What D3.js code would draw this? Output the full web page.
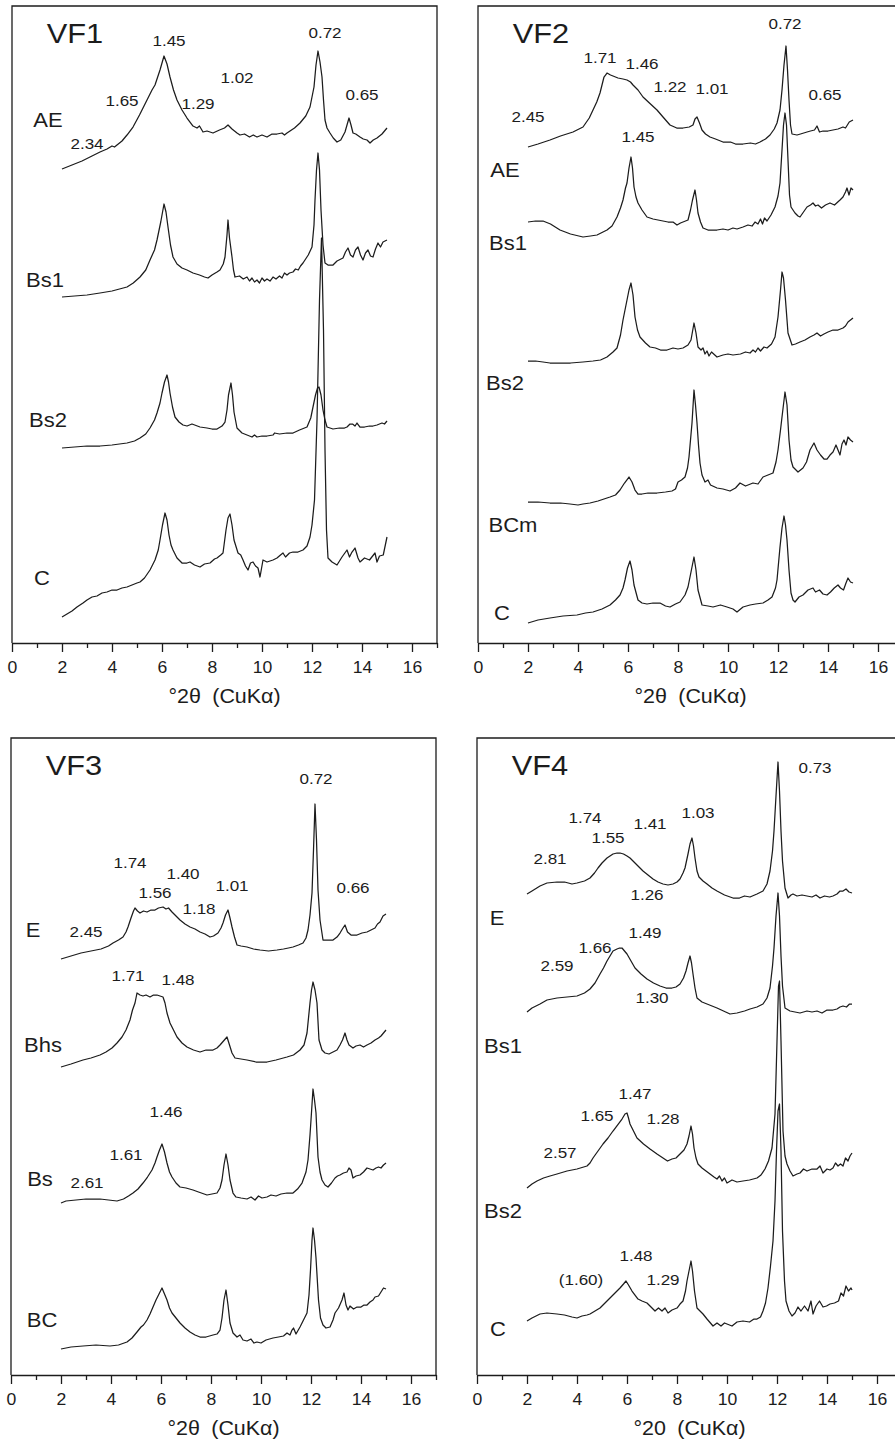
<!DOCTYPE html>
<html>
<head>
<meta charset="utf-8">
<script src="https://cdnjs.cloudflare.com/ajax/libs/d3/7.8.5/d3.min.js"></script>
<style>
  html, body { margin: 0; padding: 0; background: #fff; }
  svg { display: block; }
</style>
</head>
<body>
<svg id="chart" width="895" height="1445"></svg>
<script>
// X-ray diffraction patterns of the clay fraction, four profiles (VF1–VF4).
// Each series: [°2θ, stacked intensity (arbitrary units)].

const xTicksMajor = [0, 2, 4, 6, 8, 10, 12, 14, 16];
const xTicksMinor = [1, 3, 5, 7, 9, 11, 13, 15, 17];
const xTickLabels = ["0", "2", "4", "6", "8", "10", "12", "14", "16"];

// ---------- VF1 ----------
const vf1AE = [[2.0,474],[2.4,478],[2.8,482],[3.2,487],[3.52,491],[3.8,494],[4.0,497],[4.1,496],[4.2,498],[4.4,502],[4.6,508],[4.84,516],[5.1,528],[5.4,543],[5.6,553],[5.72,558],[5.92,573],[6.08,587],[6.2,579],[6.32,566],[6.46,553],[6.6,543],[6.8,533],[7.0,525],[7.24,517],[7.4,515],[7.5,517],[7.64,511],[7.8,512],[8.04,510],[8.3,513],[8.5,515],[8.64,518],[8.8,514],[9.0,510],[9.12,508],[9.3,509],[9.5,506],[9.65,508],[9.8,506],[10.0,508],[10.2,506],[10.4,509],[10.6,509],[10.8,510],[10.9,508],[11.0,510],[11.12,512],[11.3,515],[11.52,520],[11.75,527],[11.92,536],[12.08,556],[12.16,578],[12.24,592],[12.32,581],[12.4,566],[12.46,543],[12.52,523],[12.6,515],[12.72,510],[12.85,505],[13.0,501],[13.15,503],[13.32,511],[13.48,525],[13.56,518],[13.64,510],[13.75,509],[13.92,506],[14.05,504],[14.2,503],[14.32,500],[14.45,503],[14.6,505],[14.8,509],[15.0,515]];
const vf1Bs1 = [[2.0,346],[2.5,347],[3.0,348],[3.52,350],[4.0,352],[4.3,354],[4.6,356],[4.85,360],[5.12,366],[5.35,373],[5.52,383],[5.7,393],[5.8,403],[5.95,421],[6.08,439],[6.16,431],[6.24,416],[6.34,398],[6.44,386],[6.6,379],[6.8,375],[7.0,373],[7.24,370],[7.5,368],[7.7,366],[7.84,365],[8.0,368],[8.2,371],[8.32,373],[8.45,379],[8.52,386],[8.6,408],[8.64,423],[8.7,405],[8.8,386],[8.86,373],[8.92,366],[9.1,367],[9.25,364],[9.4,366],[9.5,362],[9.6,365],[9.7,361],[9.8,363],[9.9,360],[10.0,365],[10.1,362],[10.2,364],[10.32,362],[10.44,366],[10.56,364],[10.7,367],[10.8,365],[10.9,370],[11.0,368],[11.1,370],[11.24,371],[11.34,374],[11.45,373],[11.54,377],[11.64,380],[11.85,388],[12.0,396],[12.08,418],[12.12,443],[12.18,473],[12.24,490],[12.3,473],[12.36,433],[12.44,398],[12.52,380],[12.64,378],[12.84,378],[13.0,382],[13.24,385],[13.34,391],[13.44,395],[13.54,388],[13.64,386],[13.74,393],[13.84,396],[13.94,388],[14.04,383],[14.14,390],[14.24,393],[14.34,387],[14.44,386],[14.54,394],[14.64,400],[14.74,396],[14.84,401],[14.92,402],[15.0,403]];
const vf1Bs2 = [[2.0,195],[2.5,196],[3.0,197],[3.52,197],[4.0,198],[4.6,200],[4.9,202],[5.12,205],[5.35,209],[5.52,215],[5.7,223],[5.8,230],[5.92,240],[6.0,250],[6.1,261],[6.2,268],[6.26,261],[6.32,250],[6.42,236],[6.52,226],[6.68,221],[6.84,218],[7.0,217],[7.2,219],[7.52,216],[7.8,215],[8.0,214],[8.2,214],[8.4,217],[8.52,221],[8.6,233],[8.66,248],[8.76,260],[8.82,248],[8.88,231],[9.0,215],[9.2,210],[9.4,208],[9.6,206],[9.7,208],[9.8,206],[10.0,207],[10.2,207],[10.44,208],[10.5,210],[10.7,209],[11.0,210],[11.24,210],[11.5,213],[11.8,216],[11.95,225],[12.04,236],[12.14,248],[12.22,255],[12.28,256],[12.36,248],[12.44,233],[12.52,223],[12.6,216],[12.84,214],[13.1,215],[13.3,215],[13.4,216],[13.52,219],[13.62,219],[13.72,217],[13.8,220],[13.92,216],[14.1,216],[14.3,217],[14.44,217],[14.6,218],[14.8,220],[14.9,219],[15.0,222]];
const vf1C = [[2.0,26],[2.2,29],[2.4,32],[2.6,36],[2.84,40],[3.0,43],[3.2,46],[3.4,47],[3.6,50],[3.8,51],[4.0,53],[4.2,53],[4.4,55],[4.6,56],[4.8,58],[5.0,60],[5.12,61],[5.3,65],[5.52,73],[5.72,83],[5.85,93],[5.92,103],[6.02,118],[6.12,130],[6.2,123],[6.28,108],[6.36,98],[6.44,93],[6.6,85],[6.8,80],[7.0,80],[7.12,81],[7.3,78],[7.52,76],[7.7,79],[7.92,80],[8.1,84],[8.2,85],[8.35,88],[8.44,90],[8.56,113],[8.64,125],[8.72,129],[8.8,118],[8.88,103],[9.04,90],[9.15,88],[9.24,83],[9.34,77],[9.44,73],[9.54,80],[9.64,81],[9.74,77],[9.84,75],[9.92,66],[10.04,83],[10.2,81],[10.44,83],[10.6,85],[10.74,88],[10.84,90],[10.94,86],[11.1,90],[11.24,91],[11.44,91],[11.64,93],[11.8,97],[11.92,106],[12.0,118],[12.1,143],[12.2,223],[12.3,343],[12.38,405],[12.46,313],[12.52,193],[12.58,113],[12.64,85],[12.8,81],[13.0,78],[13.2,86],[13.4,93],[13.5,86],[13.6,91],[13.72,95],[13.84,85],[13.92,81],[14.1,85],[14.3,83],[14.52,90],[14.6,81],[14.7,87],[14.85,88],[15.0,106]];

// ---------- VF2 ----------
const vf2AE = [[2.0,496],[2.4,499],[2.88,503],[3.3,507],[3.8,511],[4.2,516],[4.45,525],[4.6,533],[4.75,541],[4.88,550],[4.96,558],[5.04,566],[5.16,570],[5.3,568],[5.4,567],[5.6,565],[5.8,564],[5.96,563],[6.1,561],[6.2,558],[6.4,553],[6.6,546],[6.9,539],[7.16,533],[7.4,526],[7.68,518],[7.95,515],[8.2,515],[8.45,516],[8.6,518],[8.68,524],[8.76,526],[8.86,520],[8.96,513],[9.1,509],[9.28,506],[9.5,504],[9.8,501],[10.1,501],[10.3,499],[10.6,499],[10.9,500],[11.1,499],[11.28,501],[11.5,504],[11.68,508],[11.85,514],[11.96,520],[12.08,533],[12.16,553],[12.24,578],[12.32,597],[12.38,573],[12.44,543],[12.5,518],[12.56,509],[12.76,508],[12.9,509],[13.16,511],[13.3,512],[13.46,513],[13.56,517],[13.66,511],[13.8,512],[14.0,512],[14.2,513],[14.4,514],[14.6,516],[14.7,515],[14.85,521],[15.0,523]];
const vf2Bs1 = [[2.0,421],[2.3,422],[2.6,422],[2.9,419],[3.28,413],[3.7,409],[4.2,406],[4.5,407],[4.76,408],[5.0,411],[5.16,413],[5.36,417],[5.56,426],[5.7,435],[5.8,443],[5.9,455],[5.96,460],[6.04,475],[6.12,486],[6.18,475],[6.24,456],[6.32,446],[6.4,440],[6.56,433],[6.76,426],[7.0,424],[7.2,423],[7.4,422],[7.6,421],[7.8,421],[7.96,418],[8.1,420],[8.3,422],[8.4,423],[8.5,433],[8.58,443],[8.68,453],[8.74,443],[8.8,430],[8.9,421],[9.0,415],[9.2,413],[9.56,413],[9.8,414],[10.0,413],[10.2,415],[10.36,414],[10.6,416],[10.8,418],[10.96,417],[11.08,421],[11.2,419],[11.3,424],[11.38,419],[11.46,425],[11.56,422],[11.72,428],[11.88,436],[12.0,447],[12.08,460],[12.16,493],[12.22,518],[12.28,530],[12.34,518],[12.4,483],[12.46,448],[12.52,436],[12.68,430],[12.8,427],[12.88,426],[13.02,431],[13.16,436],[13.3,438],[13.4,440],[13.5,437],[13.6,438],[13.74,435],[13.9,438],[14.08,440],[14.26,438],[14.48,443],[14.6,446],[14.7,451],[14.76,455],[14.84,448],[14.92,455],[15.0,453]];
const vf2Bs2 = [[2.0,282],[2.3,282],[2.6,281],[2.88,280],[3.3,280],[3.7,280],[4.2,281],[4.6,282],[4.9,283],[5.16,286],[5.4,291],[5.56,295],[5.7,308],[5.8,323],[5.92,338],[6.04,353],[6.12,360],[6.2,348],[6.28,326],[6.38,313],[6.48,306],[6.7,300],[6.88,296],[7.1,295],[7.3,293],[7.56,293],[7.8,295],[8.0,294],[8.2,295],[8.4,298],[8.52,303],[8.64,320],[8.72,310],[8.8,296],[8.92,293],[9.0,295],[9.08,289],[9.16,292],[9.24,287],[9.34,291],[9.56,286],[9.8,288],[10.0,289],[10.2,288],[10.5,289],[10.7,291],[10.88,290],[11.0,293],[11.1,291],[11.2,295],[11.3,292],[11.44,296],[11.56,295],[11.74,299],[11.88,306],[12.0,326],[12.1,353],[12.16,371],[12.22,365],[12.3,343],[12.4,310],[12.56,298],[12.7,299],[12.88,301],[13.08,303],[13.28,306],[13.44,308],[13.56,310],[13.7,307],[13.84,309],[14.0,311],[14.2,313],[14.4,313],[14.6,315],[14.7,317],[14.8,321],[14.9,323],[15.0,325]];
const vf2BCm = [[2.0,141],[2.4,141],[2.88,140],[3.3,140],[3.68,139],[4.0,138],[4.2,139],[4.48,140],[4.8,142],[5.04,144],[5.28,146],[5.5,148],[5.68,153],[5.86,160],[6.04,166],[6.16,161],[6.28,153],[6.4,149],[6.56,149],[6.8,150],[7.16,150],[7.5,151],[7.76,152],[7.9,154],[8.0,161],[8.14,163],[8.28,166],[8.38,175],[8.44,186],[8.5,203],[8.56,220],[8.64,253],[8.7,238],[8.76,220],[8.82,198],[8.88,180],[8.96,168],[9.08,161],[9.2,163],[9.3,158],[9.56,155],[9.8,154],[10.08,152],[10.3,155],[10.48,160],[10.7,157],[11.0,160],[11.2,159],[11.4,166],[11.6,168],[11.8,170],[11.92,181],[12.0,193],[12.1,213],[12.16,226],[12.28,251],[12.36,238],[12.44,203],[12.52,183],[12.6,176],[12.8,171],[13.0,175],[13.14,181],[13.28,193],[13.44,200],[13.56,193],[13.7,188],[13.84,184],[13.96,184],[14.08,188],[14.2,191],[14.32,198],[14.4,193],[14.48,188],[14.56,199],[14.64,203],[14.72,198],[14.8,206],[14.9,203],[15.0,201]];
const vf2C = [[2.0,20],[2.4,23],[2.88,25],[3.4,27],[3.96,28],[4.3,30],[4.6,31],[4.96,34],[5.28,38],[5.5,43],[5.68,48],[5.8,55],[5.88,63],[5.98,75],[6.08,82],[6.16,73],[6.24,58],[6.4,43],[6.56,40],[6.76,39],[7.0,40],[7.28,40],[7.5,37],[7.68,36],[7.9,39],[8.08,41],[8.28,48],[8.4,56],[8.52,71],[8.64,86],[8.72,73],[8.8,53],[8.96,38],[9.2,37],[9.4,36],[9.7,38],[9.96,36],[10.2,34],[10.36,31],[10.6,36],[10.88,38],[11.1,39],[11.4,40],[11.6,43],[11.76,46],[11.9,55],[11.96,63],[12.08,96],[12.16,115],[12.24,127],[12.3,118],[12.36,103],[12.44,73],[12.52,50],[12.6,43],[12.68,41],[12.84,46],[13.0,48],[13.2,53],[13.4,55],[13.5,51],[13.66,53],[13.8,49],[13.96,48],[14.1,51],[14.25,55],[14.4,58],[14.5,55],[14.62,53],[14.72,60],[14.8,65],[14.9,61],[15.0,60]];

// ---------- VF3 ----------
const vf3E = [[2.0,416],[2.4,419],[2.8,422],[3.2,424],[3.6,426],[3.9,429],[4.08,432],[4.3,435],[4.48,438],[4.6,443],[4.68,448],[4.8,457],[4.9,464],[4.96,467],[5.06,464],[5.16,462],[5.3,464],[5.44,463],[5.6,465],[5.76,465],[5.9,467],[6.08,468],[6.2,466],[6.3,467],[6.44,463],[6.6,459],[6.76,455],[6.96,451],[7.16,448],[7.36,446],[7.56,443],[7.76,441],[7.96,438],[8.1,439],[8.28,442],[8.4,447],[8.48,452],[8.58,460],[8.68,465],[8.76,457],[8.84,448],[8.94,438],[9.04,430],[9.2,429],[9.44,428],[9.7,426],[9.96,425],[10.3,424],[10.64,425],[10.9,426],[11.1,427],[11.28,428],[11.5,430],[11.68,432],[11.8,437],[11.88,445],[11.96,460],[12.04,482],[12.1,525],[12.16,571],[12.22,535],[12.28,485],[12.36,455],[12.48,435],[12.7,435],[12.88,435],[13.04,438],[13.16,442],[13.28,447],[13.36,450],[13.46,443],[13.6,440],[13.84,440],[14.04,442],[14.24,443],[14.4,445],[14.56,447],[14.66,451],[14.76,453],[14.88,459],[15.0,461]];
const vf3Bhs = [[2.0,308],[2.4,311],[2.88,315],[3.2,317],[3.56,320],[3.8,323],[4.04,327],[4.24,332],[4.44,338],[4.6,345],[4.76,355],[4.86,365],[4.96,372],[5.04,382],[5.16,380],[5.28,379],[5.4,380],[5.56,378],[5.7,380],[5.84,380],[5.96,379],[6.08,378],[6.16,372],[6.24,362],[6.36,352],[6.5,345],[6.64,338],[6.84,332],[7.04,328],[7.3,325],[7.56,323],[7.8,325],[8.08,325],[8.24,327],[8.36,330],[8.5,334],[8.64,338],[8.74,330],[8.84,322],[8.96,317],[9.2,316],[9.44,315],[9.8,313],[10.24,313],[10.6,315],[11.04,318],[11.3,320],[11.56,325],[11.72,330],[11.84,342],[11.96,372],[12.02,385],[12.08,393],[12.16,385],[12.24,372],[12.32,335],[12.44,325],[12.56,322],[12.72,321],[12.88,323],[13.04,325],[13.16,330],[13.26,335],[13.36,342],[13.44,335],[13.52,330],[13.68,327],[13.8,329],[13.96,330],[14.1,328],[14.24,330],[14.4,332],[14.56,335],[14.7,337],[14.8,339],[14.9,342],[15.0,345]];
const vf3Bs = [[2.0,172],[2.2,174],[2.6,175],[3.0,176],[3.56,176],[3.9,175],[4.24,174],[4.5,176],[4.7,179],[4.88,182],[5.08,186],[5.28,192],[5.46,198],[5.64,205],[5.76,212],[5.84,218],[5.94,225],[6.04,231],[6.14,223],[6.24,212],[6.34,203],[6.44,198],[6.6,192],[6.76,188],[7.0,187],[7.28,185],[7.5,183],[7.84,180],[8.04,181],[8.24,182],[8.36,187],[8.44,195],[8.52,210],[8.6,221],[8.68,210],[8.76,195],[8.88,182],[9.0,178],[9.2,177],[9.44,176],[9.6,178],[9.76,175],[9.9,179],[10.04,177],[10.24,178],[10.4,180],[10.6,179],[10.8,181],[11.04,182],[11.28,182],[11.46,186],[11.64,192],[11.8,203],[11.88,215],[11.96,240],[12.0,255],[12.08,286],[12.14,275],[12.2,262],[12.28,218],[12.36,203],[12.44,195],[12.56,190],[12.68,188],[12.82,192],[12.96,197],[13.06,199],[13.16,200],[13.3,202],[13.44,203],[13.52,207],[13.6,205],[13.68,197],[13.8,199],[13.96,200],[14.1,203],[14.24,207],[14.36,206],[14.48,205],[14.6,207],[14.7,208],[14.8,207],[14.9,210],[15.0,212]];
const vf3BC = [[2.0,26],[2.4,28],[2.88,29],[3.4,30],[3.96,29],[4.3,30],[4.64,33],[4.84,37],[5.04,43],[5.2,48],[5.3,50],[5.44,55],[5.56,61],[5.68,68],[5.8,75],[5.92,81],[6.04,87],[6.14,81],[6.24,75],[6.34,67],[6.44,62],[6.6,57],[6.76,52],[6.96,47],[7.16,43],[7.36,40],[7.56,38],[7.8,38],[8.08,40],[8.24,41],[8.36,45],[8.44,57],[8.52,75],[8.6,85],[8.68,70],[8.76,52],[8.88,42],[9.04,38],[9.16,40],[9.28,35],[9.44,34],[9.6,36],[9.72,32],[9.84,33],[10.0,32],[10.2,35],[10.48,37],[10.7,38],[10.9,39],[11.04,42],[11.16,40],[11.24,45],[11.3,47],[11.4,41],[11.56,48],[11.7,55],[11.84,62],[11.92,80],[11.98,105],[12.04,135],[12.08,147],[12.14,135],[12.2,117],[12.3,75],[12.38,57],[12.48,50],[12.6,47],[12.76,48],[12.88,55],[12.96,62],[13.1,67],[13.24,75],[13.32,82],[13.4,70],[13.48,65],[13.56,69],[13.7,66],[13.84,68],[14.0,68],[14.12,70],[14.24,70],[14.36,73],[14.48,75],[14.56,78],[14.7,79],[14.8,83],[14.9,87],[15.0,86]];

// ---------- VF4 ----------
const vf4E = [[2.0,481],[2.2,484],[2.52,489],[2.8,492],[3.2,493],[3.5,493],[3.8,491],[4.0,492],[4.3,494],[4.52,497],[4.7,502],[4.84,507],[5.0,512],[5.2,517],[5.32,519],[5.44,521],[5.6,522],[5.72,522],[5.86,521],[6.0,519],[6.12,517],[6.24,514],[6.44,509],[6.64,504],[6.84,500],[7.04,496],[7.24,493],[7.44,491],[7.64,490],[7.84,491],[8.0,493],[8.12,496],[8.24,502],[8.32,507],[8.44,521],[8.52,531],[8.6,537],[8.66,529],[8.72,517],[8.8,504],[8.88,498],[9.04,494],[9.2,491],[9.4,487],[9.6,484],[9.9,480],[10.24,477],[10.5,477],[10.7,479],[10.92,478],[11.2,481],[11.44,484],[11.6,491],[11.72,504],[11.82,524],[11.88,544],[11.96,579],[12.04,613],[12.1,584],[12.16,544],[12.22,514],[12.32,487],[12.44,477],[12.56,480],[12.64,481],[12.8,479],[13.0,480],[13.2,479],[13.4,478],[13.56,480],[13.72,477],[13.9,479],[14.1,478],[14.24,479],[14.4,481],[14.52,484],[14.64,484],[14.76,486],[14.88,483],[15.0,482]];
const vf4Bs1 = [[2.0,363],[2.2,367],[2.52,371],[2.8,375],[3.2,377],[3.6,378],[4.0,379],[4.3,382],[4.52,386],[4.72,392],[4.92,401],[5.06,407],[5.2,414],[5.32,419],[5.44,424],[5.6,426],[5.7,427],[5.8,427],[5.9,424],[6.0,421],[6.16,414],[6.32,407],[6.56,401],[6.8,396],[7.06,392],[7.32,389],[7.56,387],[7.8,387],[7.96,388],[8.12,391],[8.26,397],[8.36,404],[8.44,412],[8.52,419],[8.58,412],[8.64,401],[8.72,387],[8.8,377],[9.0,373],[9.2,371],[9.4,369],[9.6,367],[9.86,364],[10.12,361],[10.4,362],[10.7,364],[10.92,366],[11.2,368],[11.44,371],[11.6,377],[11.72,387],[11.82,409],[11.88,427],[11.96,459],[12.04,482],[12.1,459],[12.16,419],[12.22,389],[12.32,367],[12.52,364],[12.72,363],[12.92,362],[13.2,364],[13.4,363],[13.6,364],[13.8,362],[14.0,365],[14.24,365],[14.4,366],[14.52,368],[14.64,369],[14.78,368],[14.9,371],[15.0,371]];
const vf4Bs2 = [[2.0,187],[2.2,191],[2.4,194],[2.66,197],[2.92,199],[3.2,201],[3.6,204],[4.0,206],[4.4,209],[4.52,212],[4.64,217],[4.84,224],[5.04,231],[5.24,237],[5.44,244],[5.62,250],[5.8,256],[5.92,261],[6.0,262],[6.06,257],[6.12,251],[6.26,244],[6.4,237],[6.66,231],[6.92,226],[7.2,221],[7.44,217],[7.62,214],[7.8,216],[7.96,217],[8.12,221],[8.28,225],[8.4,231],[8.48,239],[8.56,249],[8.62,241],[8.68,227],[8.76,217],[8.84,211],[9.0,207],[9.16,204],[9.32,201],[9.48,198],[9.6,196],[9.7,199],[9.8,194],[9.9,197],[10.0,192],[10.2,195],[10.4,193],[10.64,194],[10.9,195],[11.2,197],[11.36,200],[11.52,206],[11.66,214],[11.8,227],[11.92,261],[12.0,334],[12.06,389],[12.1,394],[12.16,334],[12.24,244],[12.32,219],[12.4,211],[12.52,204],[12.64,199],[12.8,201],[12.92,202],[13.06,206],[13.2,204],[13.4,206],[13.6,206],[13.72,209],[13.84,202],[14.0,206],[14.12,205],[14.24,207],[14.34,212],[14.44,209],[14.54,211],[14.64,209],[14.74,217],[14.84,214],[14.92,219],[15.0,222]];
const vf4C = [[2.0,54],[2.2,57],[2.52,61],[2.8,62],[3.2,61],[3.5,60],[3.8,58],[4.0,57],[4.2,59],[4.4,60],[4.52,61],[4.72,64],[4.92,67],[5.12,72],[5.32,77],[5.52,82],[5.72,87],[5.86,91],[5.96,94],[6.06,90],[6.2,84],[6.32,80],[6.44,76],[6.6,74],[6.8,72],[6.96,68],[7.12,64],[7.26,67],[7.4,64],[7.52,67],[7.64,62],[7.8,65],[8.0,67],[8.12,71],[8.24,74],[8.34,84],[8.4,94],[8.48,104],[8.56,114],[8.62,104],[8.7,84],[8.8,67],[8.92,64],[9.04,61],[9.2,56],[9.44,49],[9.6,52],[9.76,49],[9.9,52],[10.0,51],[10.2,49],[10.4,53],[10.64,54],[10.9,53],[11.08,56],[11.2,56],[11.34,58],[11.44,64],[11.54,72],[11.64,87],[11.74,109],[11.84,134],[11.92,174],[11.98,224],[12.04,264],[12.1,271],[12.16,224],[12.22,144],[12.3,94],[12.36,74],[12.48,64],[12.6,59],[12.72,62],[12.84,68],[12.96,64],[13.1,69],[13.24,64],[13.36,74],[13.44,61],[13.56,69],[13.7,74],[13.84,68],[13.98,69],[14.12,71],[14.3,72],[14.46,74],[14.56,82],[14.66,79],[14.76,89],[14.86,84],[14.96,87],[15.0,85]];

// Horizon labels: [text, °2θ, intensity]
const vf1Horizons = [["AE",1.44,523],["Bs1",1.32,363],["Bs2",1.44,223],["C",1.2,65]];
const vf2Horizons = [["AE",1.08,473],["Bs1",1.2,400],["Bs2",1.08,260],["BCm",1.4,118],["C",0.96,30]];
const vf3Horizons = [["E",0.88,445],["Bhs",1.28,330],["Bs",1.16,196],["BC",1.24,55]];
const vf4Horizons = [["E",0.8,457],["Bs1",1.04,329],["Bs2",1.04,164],["C",0.84,46]];

// d-spacing annotations (nm): [text, °2θ, intensity]
const vf1Spacings = [["2.34",3.0,499],["1.65",4.4,542],["1.45",6.28,602],["1.29",7.44,539],["1.02",9.0,565],["0.72",12.52,610],["0.65",14.0,548]];
const vf2Spacings = [["2.45",2.0,526],["1.71",4.88,585],["1.46",6.56,579],["1.22",7.68,556],["1.01",9.36,554],["0.72",12.28,619],["0.65",13.88,548],["1.45",6.4,506]];
const vf3Spacings = [["2.45",3.0,443],["1.74",4.76,512],["1.56",5.76,482],["1.40",6.88,501],["1.18",7.52,466],["1.01",8.84,489],["0.72",12.2,596],["0.66",13.68,487],["1.71",4.68,399],["1.48",6.68,395],["2.61",3.04,192],["1.61",4.6,220],["1.46",6.2,263]];
const vf4Spacings = [["2.81",2.92,516],["1.74",4.32,557],["1.55",5.24,537],["1.41",6.92,551],["1.03",8.84,562],["1.26",6.8,480],["0.73",13.52,607],["2.59",3.2,409],["1.66",4.72,427],["1.49",6.72,442],["1.30",7.0,377],["2.57",3.32,222],["1.65",4.8,259],["1.47",6.32,281],["1.28",7.44,256],["(1.60)",4.16,95],["1.48",6.36,119],["1.29",7.44,95]];

const panelNames = ["VF1", "VF2", "VF3", "VF4"];
const axisTitles = ["°2θ (CuKα)", "°2θ (CuKα)", "°2θ (CuKα)", "°20 (CuKα)"];

// ---------- layout ----------
const layout = [
  { left: 12,  top: 6,   bottom: 643 },
  { left: 478, top: 6,   bottom: 643 },
  { left: 11,  top: 738, bottom: 1375 },
  { left: 477, top: 738, bottom: 1375 }
];
const unitPx = 25;          // pixels per °2θ
const intensityMax = 637;   // intensity range spanned by a panel
const font = "'Liberation Sans', Arial, Helvetica, sans-serif";
const ink = "#1c1c1c";
const stretch = 1.1;        // type is set slightly wide

const panels = [
  { name: panelNames[0], title: axisTitles[0], series: [vf1AE, vf1Bs1, vf1Bs2, vf1C], horizons: vf1Horizons, spacings: vf1Spacings },
  { name: panelNames[1], title: axisTitles[1], series: [vf2AE, vf2Bs1, vf2Bs2, vf2BCm, vf2C], horizons: vf2Horizons, spacings: vf2Spacings },
  { name: panelNames[2], title: axisTitles[2], series: [vf3E, vf3Bhs, vf3Bs, vf3BC], horizons: vf3Horizons, spacings: vf3Spacings },
  { name: panelNames[3], title: axisTitles[3], series: [vf4E, vf4Bs1, vf4Bs2, vf4C], horizons: vf4Horizons, spacings: vf4Spacings }
];

const svg = d3.select("#chart");

function wideText(g, str, x, y, size, anchor) {
  return g.append("text")
    .attr("transform", `translate(${x},${y}) scale(${stretch},1)`)
    .attr("dy", "0.35em")
    .attr("text-anchor", anchor || "middle")
    .style("font-family", font)
    .style("font-size", size + "px")
    .attr("fill", ink)
    .text(str);
}

panels.forEach((p, i) => {
  const L = layout[i];
  const x = d3.scaleLinear().domain([0, 17]).range([L.left, L.left + 17 * unitPx]);
  const y = d3.scaleLinear().domain([0, intensityMax]).range([L.bottom, L.top]);
  const g = svg.append("g");

  // frame (left, top, right); bottom edge is the axis
  g.append("path")
    .attr("d", `M${x(0)},${y(0)}V${y(intensityMax)}H${x(17)}V${y(0)}`)
    .attr("fill", "none")
    .attr("stroke", ink)
    .attr("stroke-width", 1.3);

  // x axis: labelled major ticks + short minor ticks
  const axMajor = d3.axisBottom(x)
    .tickValues(xTicksMajor)
    .tickFormat((d, k) => xTickLabels[k])
    .tickSize(9).tickSizeOuter(0).tickPadding(10);
  const axG = g.append("g").attr("transform", `translate(0,${y(0)})`).call(axMajor);
  axG.select(".domain").attr("stroke", ink).attr("stroke-width", 1.3);
  axG.selectAll(".tick line").attr("stroke", ink).attr("stroke-width", 1.3);
  axG.selectAll(".tick text")
    .attr("fill", ink)
    .attr("transform", `scale(${stretch},1)`)
    .style("font-family", font)
    .style("font-size", "16px");

  const axMinor = d3.axisBottom(x).tickValues(xTicksMinor).tickFormat("").tickSize(5).tickSizeOuter(0);
  const axMinorG = g.append("g").attr("transform", `translate(0,${y(0)})`).call(axMinor);
  axMinorG.select(".domain").remove();
  axMinorG.selectAll(".tick line").attr("stroke", ink).attr("stroke-width", 1.3);

  // axis title
  wideText(g, p.title, x(8.5), y(0) + 53, 19.5).style("word-spacing", "5px");

  // diffractograms
  const line = d3.line().x(d => x(d[0])).y(d => y(d[1])).curve(d3.curveLinear);
  g.selectAll("path.trace").data(p.series).enter().append("path")
    .attr("class", "trace")
    .attr("d", line)
    .attr("fill", "none")
    .attr("stroke", ink)
    .attr("stroke-width", 1.25)
    .attr("stroke-linejoin", "round");

  // panel name
  wideText(g, p.name, x(0) + 63, y(0) - 610, 28);

  // horizon labels
  p.horizons.forEach(h => wideText(g, h[0], x(h[1]), y(h[2]), 20));

  // d-spacing labels
  p.spacings.forEach(s => wideText(g, s[0], x(s[1]), y(s[2]), 15.5));
});
</script>
</body>
</html>
